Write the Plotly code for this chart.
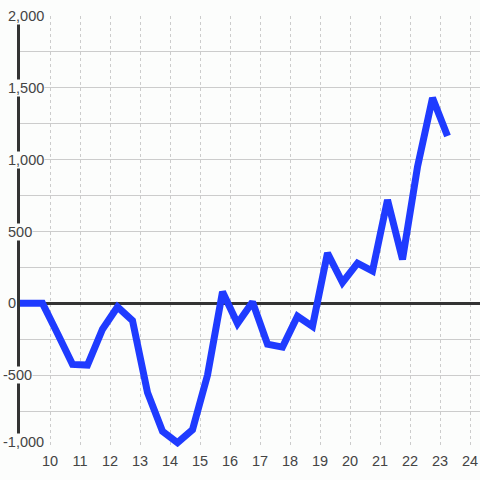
import plotly.graph_objects as go

# Data
hours = [9.0, 9.25, 9.75, 10.25, 10.75, 11.25, 11.75, 12.25, 12.75, 13.25, 13.75,
         14.25, 14.75, 15.25, 15.75, 16.25, 16.75, 17.25, 17.75, 18.25, 18.75,
         19.25, 19.75, 20.25, 20.75, 21.25, 21.75, 22.25, 22.75, 23.25]
values = [0, 0, 0, -210, -425, -430, -180, -25, -120, -620, -890,
          -970, -880, -500, 80, -140, 10, -285, -305, -90, -160,
          350, 145, 280, 225, 720, 305, 950, 1430, 1165]
x_ticks = list(range(10, 25))
y_label_vals = [-1000, -500, 0, 500, 1000, 1500, 2000]

BG = "#fcfdfc"
TXT = "#444444"
FONT = "Liberation Sans"
FS = 14.5

fig = go.Figure()
fig.add_trace(go.Scatter(
    x=hours, y=values, mode="lines",
    line=dict(color="#1f3bff", width=7),
    hoverinfo="skip", showlegend=False,
))

annotations = []
for v in y_label_vals:
    txt = f"{abs(v):,}"
    if v < 0:
        txt = "-" + txt
    annotations.append(dict(
        x=0, xref="paper", y=v, yref="y",
        text=txt, showarrow=False,
        xanchor="left", yanchor="middle",
        xshift=-13 - (4.8 if v < 0 else 0),
        yshift=5 if v == min(y_label_vals) else 0,
        font=dict(family=FONT, size=FS, color=TXT),
        bgcolor=BG, borderpad=0,
    ))

fig.update_layout(
    width=480, height=480,
    margin=dict(l=20, r=0, t=16, b=33),
    paper_bgcolor=BG, plot_bgcolor=BG,
    font=dict(family=FONT, size=FS, color=TXT),
    xaxis=dict(
        range=[9, 9 + 460 / 30],
        tickvals=x_ticks, ticktext=[str(t) for t in x_ticks],
        showgrid=True, gridcolor="#cccccc", gridwidth=1, griddash="dot",
        zeroline=False, showline=False, ticks="",
        ticklabelstandoff=3,
        tickfont=dict(family=FONT, size=FS, color=TXT),
        fixedrange=True,
    ),
    yaxis=dict(
        range=[-1000, 2000],
        tick0=0, dtick=250,
        showticklabels=False, ticks="",
        showgrid=True, gridcolor="#cccccc", gridwidth=1,
        zeroline=True, zerolinecolor="#333333", zerolinewidth=3,
        showline=True, linecolor="#333333", linewidth=3,
        layer="below traces",
        fixedrange=True,
    ),
    annotations=annotations,
)

fig.write_html(
    "out.html",
    config={"displayModeBar": False, "staticPlot": True},
    post_script="document.body.style.margin='0';document.documentElement.style.background='%s';" % BG,
)
